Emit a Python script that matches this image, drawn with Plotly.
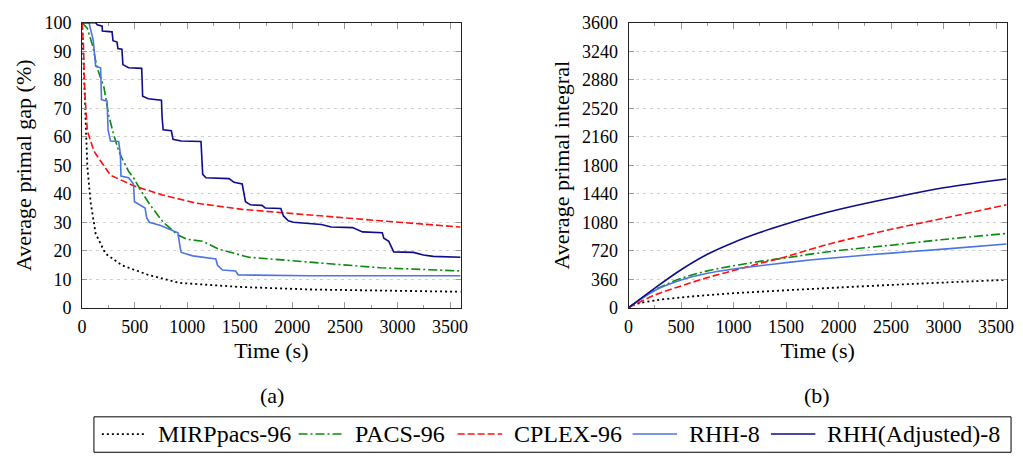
import plotly.graph_objects as go

# ---------------- data: (a) average primal gap (%) ----------------
mirp_gap_t = [0, 5, 12, 20, 35, 50, 81, 129, 222, 379, 630, 928, 1491, 1900, 2162, 3600]
mirp_gap_v = [100, 95, 88, 75, 60, 49.5, 37, 26, 19, 14.9, 11.5, 8.7, 7.3, 6.6, 6.4, 5.6]

pacs_gap_t = [0, 50, 100, 144, 207, 254, 301, 348, 379, 442, 489, 560, 646, 771, 912, 1000,
              1147, 1304, 1586, 1900, 2369, 2839, 3600]
pacs_gap_v = [100, 98, 92, 84, 77.5, 67.4, 60.7, 55, 52.5, 47.9, 45.6, 41, 36.1, 30, 25.5, 24,
              23.3, 20.5, 17.7, 16.8, 15.4, 14, 12.9]

cplex_gap_t = [0, 12, 25, 50, 113, 129, 270, 489, 771, 1084, 1523, 1899, 2165, 2839, 3600]
cplex_gap_v = [100, 93, 76, 62, 55, 54, 46.5, 42.8, 39.5, 36.7, 34.5, 33.3, 32.4, 30.5, 28.3]

rhh_gap_t = [0, 66, 106, 129, 176, 182, 185, 238, 247, 270, 348, 364, 370, 442, 489, 498, 567,
             599, 614, 639, 740, 818, 912, 933, 943, 1053, 1272, 1288, 1335, 1460, 1485, 2165, 3600]
rhh_gap_v = [100, 100, 93.8, 84.8, 84.2, 77.5, 73, 72.5, 62.4, 58.5, 58.3, 54, 46.2, 45.6, 43.4,
             37.2, 35.6, 35, 31.6, 30, 28.9, 27.7, 26.3, 21, 19.4, 18.2, 17.1, 14.9, 13.2, 12.9,
             11.5, 11.2, 11.2]

rhha_gap_t = [0, 129, 144, 191, 193, 285, 294, 332, 341, 379, 388, 442, 567, 576, 630, 755, 761,
              771, 849, 865, 943, 1131, 1147, 1178, 1398, 1445, 1523, 1554, 1601, 1711, 1742, 1890,
              1915, 1962, 2009, 2275, 2369, 2573, 2667, 2855, 2870, 2917, 2964, 3152, 3246, 3340, 3600]
rhha_gap_v = [100, 100, 99.3, 98.8, 97.1, 96.8, 93.7, 93.2, 90.9, 90.7, 85.3, 84.2, 84, 74.2,
              73.3, 72.8, 66.9, 62.4, 62.1, 59.1, 58.5, 58.3, 46.8, 45.6, 45.3, 44, 43.4, 37.2,
              36.1, 35.9, 35, 34.8, 32.2, 30.5, 30, 29.2, 28.3, 28.1, 26.6, 26.3, 24.4, 23.3, 19.6,
              19.4, 18.5, 18, 17.7]

# ---------------- data: (b) average primal integral ----------------
int_t = [0, 250, 500, 750, 1000, 1250, 1500, 1750, 2000, 2500, 3000, 3600]
mirp_int = [0, 92, 130, 158, 183, 202, 220, 238, 255, 288, 318, 352]
pacs_int = [0, 225, 370, 465, 530, 585, 630, 680, 722, 790, 862, 938]
cplex_int = [0, 160, 275, 380, 470, 560, 645, 745, 835, 990, 1130, 1300]
rhh_int = [0, 218, 350, 435, 490, 530, 570, 605, 635, 690, 740, 805]
rhha_int = [0, 248, 480, 675, 825, 950, 1058, 1155, 1240, 1385, 1515, 1626]
early_t = [0, 50, 100]
mirp_int_early = [0, 36, 56]

names = ["MIRPpacs-96", "PACS-96", "CPLEX-96", "RHH-8", "RHH(Adjusted)-8"]
x_ticks = [0, 500, 1000, 1500, 2000, 2500, 3000, 3500]
gap_ticks = list(range(0, 101, 10))
int_ticks = list(range(0, 3601, 360))

styles = {
    "MIRPpacs-96": dict(color="black", dash="2px,3px", width=1.8),
    "PACS-96": dict(color="#0a8a0a", dash="9px,3px,2px,3px", width=1.6),
    "CPLEX-96": dict(color="#ff1010", dash="7px,3px", width=1.6),
    "RHH-8": dict(color="#4b74e3", width=1.6),
    "RHH(Adjusted)-8": dict(color="#0c0c8c", width=1.6),
}

gap_data = {
    "MIRPpacs-96": (mirp_gap_t, mirp_gap_v),
    "PACS-96": (pacs_gap_t, pacs_gap_v),
    "CPLEX-96": (cplex_gap_t, cplex_gap_v),
    "RHH-8": (rhh_gap_t, rhh_gap_v),
    "RHH(Adjusted)-8": (rhha_gap_t, rhha_gap_v),
}
int_data = {
    "MIRPpacs-96": (early_t + int_t[1:], mirp_int_early + mirp_int[1:]),
    "PACS-96": (int_t, pacs_int),
    "CPLEX-96": (int_t, cplex_int),
    "RHH-8": (int_t, rhh_int),
    "RHH(Adjusted)-8": (int_t, rhha_int),
}

fig = go.Figure()
for n in names:
    t, v = gap_data[n]
    fig.add_trace(go.Scatter(x=t, y=v, mode="lines", name=n, line=styles[n],
                             xaxis="x", yaxis="y", showlegend=False))
for n in names:
    t, v = int_data[n]
    fig.add_trace(go.Scatter(x=t, y=v, mode="lines", name=n,
                             line=dict(styles[n], shape="spline", smoothing=1.0),
                             xaxis="x2", yaxis="y2", showlegend=False))

FONT = "Liberation Serif"
tickfont = dict(family=FONT, size=18, color="black")
titlefont = dict(family=FONT, size=22, color="black")

W, H = 1023, 468
def px(x):
    return x / W
def py(y):
    return 1 - y / H

common_x = dict(range=[0, 3600], tickvals=x_ticks, ticks="inside", ticklen=6, tickcolor="#999",
                showline=True, linecolor="#222", linewidth=1, mirror="ticks", showgrid=False,
                zeroline=False, tickfont=tickfont, ticklabelstandoff=3,
                minor=dict(dtick=250, tick0=0, ticks="inside", ticklen=3, tickcolor="#999", showgrid=False),
                title=dict(text="Time (s)", font=titlefont, standoff=6))
common_y = dict(ticks="inside", ticklen=5, tickcolor="#999", showline=True, linecolor="#222",
                linewidth=1, mirror="ticks", showgrid=True, gridcolor="#cfcfcf", griddash="3px,4px",
                gridwidth=1, zeroline=False, tickfont=tickfont, ticklabelstandoff=6)

# ---- manual legend (box, line samples, labels) ----
leg_sample_x0 = [98, 297, 458, 635, 775]
leg_sample_len = 45
leg_text_gap = 11
leg_y = 443
shapes = [dict(type="rect", xref="paper", yref="paper", x0=px(90), x1=px(1018), y0=py(462), y1=py(425),
               line=dict(color="black", width=1), fillcolor="white", layer="below")]
annotations = []
for n, x0 in zip(names, leg_sample_x0):
    st = styles[n]
    x1 = x0 + leg_sample_len
    shapes.append(dict(type="line", xref="paper", yref="paper", x0=px(x0), x1=px(x1),
                       y0=py(leg_y), y1=py(leg_y),
                       line=dict(color=st["color"], width=st["width"], dash=st.get("dash", "solid"))))
    annotations.append(dict(text=n, x=px(x1 + leg_text_gap), y=py(leg_y), xref="paper", yref="paper",
                            showarrow=False, font=dict(family=FONT, size=24, color="black"),
                            xanchor="left", yanchor="middle", borderpad=0))

annotations += [
    dict(text="(a)", x=px(270), y=py(403), xref="paper", yref="paper", showarrow=False,
         font=titlefont, xanchor="center", yanchor="middle"),
    dict(text="(b)", x=px(822), y=py(403), xref="paper", yref="paper", showarrow=False,
         font=titlefont, xanchor="center", yanchor="middle"),
]

fig.update_layout(
    width=W, height=H,
    margin=dict(l=0, r=0, t=0, b=0),
    paper_bgcolor="white", plot_bgcolor="white",
    font=dict(family=FONT, color="black"),
    showlegend=False,
    xaxis=dict(common_x, domain=[px(78), px(461)], anchor="y"),
    yaxis=dict(common_y, domain=[py(311), py(13.3)], anchor="x", range=[0, 100], tickvals=gap_ticks,
               title=dict(text="Average primal gap (%)", font=titlefont, standoff=6)),
    xaxis2=dict(common_x, domain=[px(631), px(1013.5)], anchor="y2"),
    yaxis2=dict(common_y, domain=[py(311), py(13.3)], anchor="x2", range=[0, 3600], tickvals=int_ticks,
                title=dict(text="Average primal integral", font=titlefont, standoff=6)),
    shapes=shapes,
    annotations=annotations,
)

fig.write_html("out.html")
